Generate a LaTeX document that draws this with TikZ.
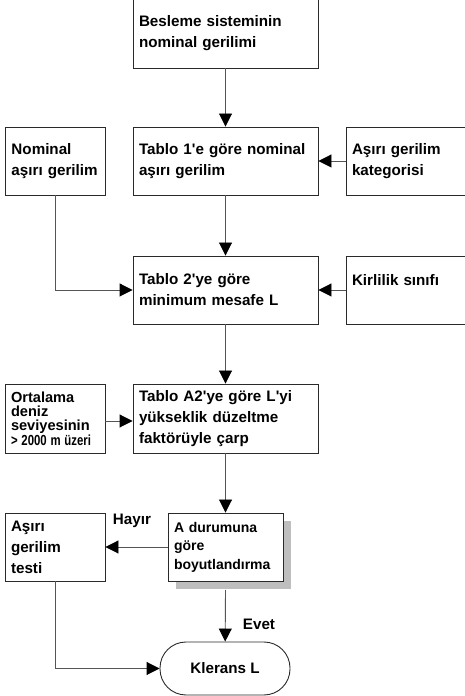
\documentclass[tikz,border=0pt]{standalone}
\usepackage{fontspec}
\usepackage{tikz}
\usetikzlibrary{arrows.meta}
\setmainfont{Liberation Sans}
\definecolor{boxline}{HTML}{2A2A2A}
\definecolor{wiregray}{HTML}{555555}
\definecolor{shadowgray}{HTML}{BEBEBE}
\newcommand{\figuretext}{\fontsize{15.2}{21}\selectfont\bfseries}
\newcommand{\smalltext}{\fontsize{14.6}{14.2}\selectfont\bfseries\lineskiplimit=-20pt}
\newcommand{\tick}{\textquotesingle}

\begin{document}
\begin{tikzpicture}[x=1pt,y=1pt,font=\figuretext,
  flowbox/.style={draw=boxline,fill=white,line width=0.9pt,align=left,inner xsep=6pt,inner ysep=0pt,minimum height=68pt},
  wire/.style={draw=wiregray,line width=0.9pt,-{Triangle[length=13pt,width=13pt,color=black,fill=black]}}]
\useasboundingbox (0,0) rectangle (464,696);

\node[flowbox,text width=173pt,minimum height=69pt] (supply) at (225.5,662.5) {Besleme sisteminin\\nominal gerilimi};

\node[flowbox,text width=173pt] (table1) at (225.5,535) {Tablo 1\tick e göre nominal\\aşırı gerilim};
\node[flowbox,text width=87pt,inner xsep=6.5pt] (nominal) at (55,535) {Nominal\\aşırı gerilim};
\node[flowbox,text width=118pt] (category) at (411,535) {Aşırı gerilim\\kategorisi};

\node[flowbox,text width=173pt] (table2) at (225.5,406) {Tablo 2\tick ye göre\\minimum mesafe L};
\node[flowbox,text width=118pt] (pollution) at (411,406) {Kirlilik sınıfı\\ ~};

\node[flowbox,text width=173pt,minimum height=69pt] (tableA2) at (225.5,277.5) {Tablo A2\tick ye göre L\tick yi\\yükseklik düzeltme\\faktörüyle çarp};
\node[flowbox,text width=88pt,minimum height=69pt,font=\smalltext] (altitude) at (55,277.5) {Ortalama\\deniz\\seviyesinin\\\scalebox{0.78}[1]{> 2000 m üzeri}};

\fill[shadowgray] (176,107) rectangle (291,175);
\node[flowbox,text width=103pt,font=\fontsize{14}{18.5}\selectfont\bfseries] (caseA) at (225.5,149) {A durumuna\\göre\\boyutlandırma};
\node[flowbox,text width=88pt] (ovtest) at (55,149) {Aşırı\\gerilim\\testi};

\node[draw=boxline,fill=white,line width=0.9pt,rounded corners=26pt,minimum width=130pt,minimum height=53pt] (clearance) at (225,27.5) {Klerans L};

\node[inner sep=0pt] (no) at (132,175) {Hayır};
\node[inner sep=0pt] (yes) at (259,72) {Evet};
\coordinate (caseAout) at (225.5,106);

\draw[wire] (supply) -- (table1);
\draw[wire] (category) -- (table1);
\draw[wire] (table1) -- (table2);
\draw[wire] (nominal.south) |- (table2.west);
\draw[wire] (pollution) -- (table2);
\draw[wire] (table2) -- (tableA2);
\draw[wire] (altitude.east |- 0,275) -- (tableA2.west |- 0,275);
\draw[wire] (tableA2) -- (caseA);
\draw[wire] (caseA) -- (ovtest);
\draw[wire] (caseAout) -- (clearance);
\draw[wire] (ovtest.south) |- (clearance.west);
\end{tikzpicture}
\end{document}
